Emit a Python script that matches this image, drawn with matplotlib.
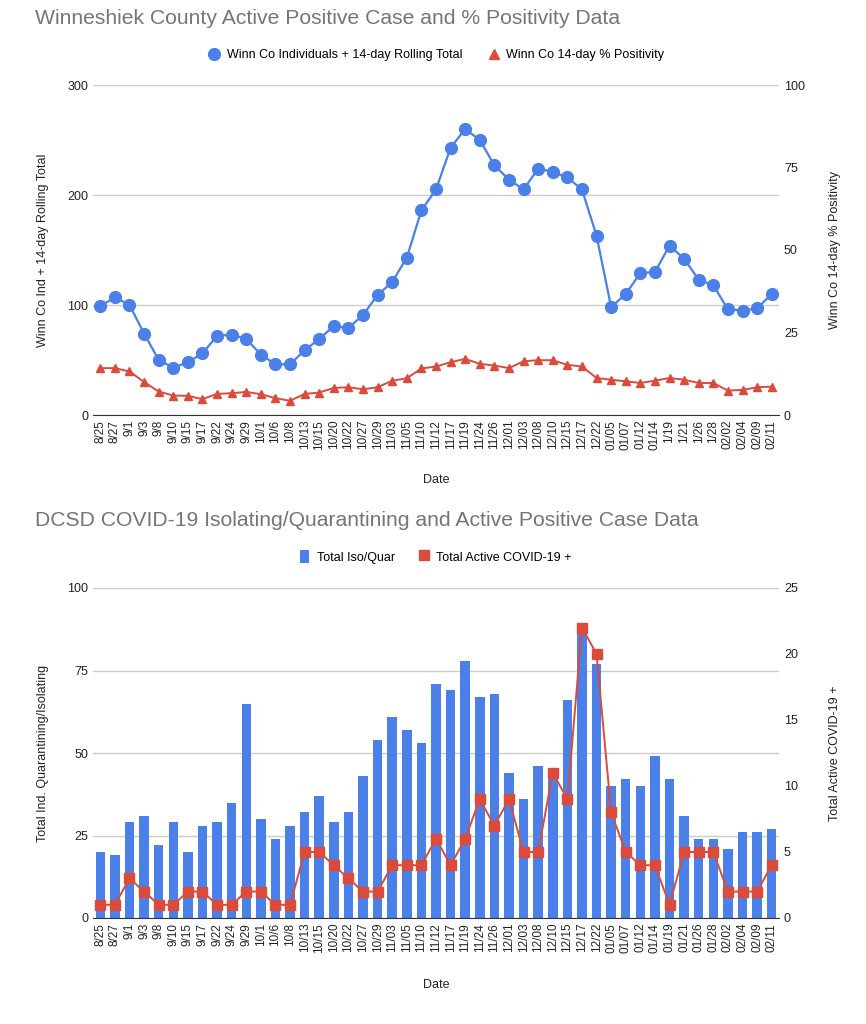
import numpy as np
import matplotlib
matplotlib.use('Agg')
import matplotlib.pyplot as plt
from matplotlib.lines import Line2D
from matplotlib.patches import Patch

plt.rcParams['font.family'] = ['Liberation Sans', 'DejaVu Sans']

# top chart data
dates_top = ['8/25', '8/27', '9/1', '9/3', '9/8', '9/10', '9/15', '9/17', '9/22', '9/24',
             '9/29', '10/1', '10/6', '10/8', '10/13', '10/15', '10/20', '10/22', '10/27', '10/29',
             '11/03', '11/05', '11/10', '11/12', '11/17', '11/19', '11/24', '11/26', '12/01', '12/03',
             '12/08', '12/10', '12/15', '12/17', '12/22', '01/05', '01/07', '01/12', '01/14', '1/19',
             '1/21', '1/26', '1/28', '02/02', '02/04', '02/09', '02/11']
rolling_total = [99, 107, 100, 74, 50, 43, 48, 56, 72, 73,
                 69, 55, 46, 46, 59, 69, 81, 79, 91, 109,
                 121, 143, 186, 205, 243, 260, 250, 227, 214, 205,
                 224, 221, 216, 205, 163, 98, 110, 129, 130, 154,
                 142, 123, 118, 96, 95, 97, 110]
positivity = [14.2, 14.2, 13.2, 10.0, 7.1, 5.9, 5.8, 4.8, 6.4, 6.6,
              7.0, 6.3, 5.1, 4.3, 6.4, 6.8, 8.2, 8.4, 7.8, 8.4,
              10.4, 11.1, 14.1, 14.7, 16.0, 17.0, 15.5, 15.0, 14.2, 16.3,
              16.6, 16.6, 15.2, 14.7, 11.2, 10.7, 10.2, 9.7, 10.4, 11.2,
              10.7, 9.7, 9.7, 7.4, 7.6, 8.4, 8.6]

# bottom chart data
dates_bottom = ['8/25', '8/27', '9/1', '9/3', '9/8', '9/10', '9/15', '9/17', '9/22', '9/24',
                '9/29', '10/1', '10/6', '10/8', '10/13', '10/15', '10/20', '10/22', '10/27', '10/29',
                '11/03', '11/05', '11/10', '11/12', '11/17', '11/19', '11/24', '11/26', '12/01', '12/03',
                '12/08', '12/10', '12/15', '12/17', '12/22', '01/05', '01/07', '01/12', '01/14', '01/19',
                '01/21', '01/26', '01/28', '02/02', '02/04', '02/09', '02/11']
iso_quar = [20, 19, 29, 31, 22, 29, 20, 28, 29, 35,
            65, 30, 24, 28, 32, 37, 29, 32, 43, 54,
            61, 57, 53, 71, 69, 78, 67, 68, 44, 36,
            46, 43, 66, 88, 77, 40, 42, 40, 49, 42,
            31, 24, 24, 21, 26, 26, 27]
active_pos = [1, 1, 3, 2, 1, 1, 2, 2, 1, 1,
              2, 2, 1, 1, 5, 5, 4, 3, 2, 2,
              4, 4, 4, 6, 4, 6, 9, 7, 9, 5,
              5, 11, 9, 22, 20, 8, 5, 4, 4, 1,
              5, 5, 5, 2, 2, 2, 4]

BLUE = '#4a80e8'
RED = '#db4b3c'
TITLE_GRAY = '#757575'
TEXT = '#222222'
GRID = '#cccccc'

fig = plt.figure(figsize=(8.66, 10.24), dpi=100)


def style_axes(ax, labels):
    for s in ['top', 'left', 'right']:
        ax.spines[s].set_visible(False)
    ax.spines['bottom'].set_color('#333333')
    ax.tick_params(length=0, labelsize=9, colors=TEXT)
    ax.set_xticks(np.arange(len(labels)))
    ax.set_xticklabels(labels, rotation=90, fontsize=8.5)
    ax.set_xlim(-0.5, len(labels) - 0.5)


# ---- top chart ----
ax1 = fig.add_axes([93 / 866, 1 - 415 / 1024, 686 / 866, 330 / 1024])
ax2 = ax1.twinx()
x = np.arange(len(dates_top))

style_axes(ax1, dates_top)
for s in ['top', 'left', 'right', 'bottom']:
    ax2.spines[s].set_visible(False)
ax2.tick_params(length=0, labelsize=9, colors=TEXT)

ax1.set_ylim(0, 300)
ax1.set_yticks([0, 100, 200, 300])
ax1.grid(axis='y', color=GRID, linewidth=1)
ax1.set_axisbelow(True)
ax2.set_ylim(0, 100)
ax2.set_yticks([0, 25, 50, 75, 100])

ax1.plot(x, rolling_total, color=BLUE, marker='o', markersize=8.5, linewidth=1.6, zorder=3)
ax2.plot(x, positivity, color=RED, marker='^', markersize=6, linewidth=1.4, zorder=3)

ax1.set_ylabel('Winn Co Ind + 14-day Rolling Total', fontsize=9, color=TEXT)
ax1.yaxis.set_label_coords(-0.064, 0.5)
ax2.set_ylabel('Winn Co 14-day % Positivity', fontsize=9, color=TEXT, rotation=90)
ax2.yaxis.set_label_coords(1.073, 0.5)
ax1.set_xlabel('Date', fontsize=9, color=TEXT)
ax1.xaxis.set_label_coords(0.5, -0.178)

handles_top = [
    Line2D([], [], color=BLUE, marker='o', linestyle='none', markersize=8.5),
    Line2D([], [], color=RED, marker='^', linestyle='none', markersize=7),
]
ax1.legend(handles_top, ['Winn Co Individuals + 14-day Rolling Total', 'Winn Co 14-day % Positivity'],
           loc='center', bbox_to_anchor=(0.5, 1.091), ncol=2, frameon=False, fontsize=9,
           handletextpad=0.5, columnspacing=2.0, handlelength=1.0)

fig.text(35 / 866, 1 - 18 / 1024, 'Winneshiek County Active Positive Case and % Positivity Data',
         fontsize=15.2, color=TITLE_GRAY, va='center', ha='left')

# ---- bottom chart ----
ax3 = fig.add_axes([93 / 866, 1 - 918 / 1024, 686 / 866, 330 / 1024])
ax4 = ax3.twinx()
x = np.arange(len(dates_bottom))

style_axes(ax3, dates_bottom)
for s in ['top', 'left', 'right', 'bottom']:
    ax4.spines[s].set_visible(False)
ax4.tick_params(length=0, labelsize=9, colors=TEXT)

ax3.set_ylim(0, 100)
ax3.set_yticks([0, 25, 50, 75, 100])
ax3.grid(axis='y', color=GRID, linewidth=1)
ax3.set_axisbelow(True)
ax4.set_ylim(0, 25)
ax4.set_yticks([0, 5, 10, 15, 20, 25])

ax3.bar(x, iso_quar, width=0.65, color=BLUE, zorder=2)
ax4.plot(x, active_pos, color=RED, marker='s', markersize=6.5, linewidth=1.4, zorder=3)

ax3.set_ylabel('Total Ind. Quarantining/Isolating', fontsize=9, color=TEXT)
ax3.yaxis.set_label_coords(-0.064, 0.5)
ax4.set_ylabel('Total Active COVID-19 +', fontsize=9, color=TEXT, rotation=90)
ax4.yaxis.set_label_coords(1.073, 0.5)
ax3.set_xlabel('Date', fontsize=9, color=TEXT)
ax3.xaxis.set_label_coords(0.5, -0.185)

handles_bottom = [
    Patch(facecolor=BLUE),
    Line2D([], [], color=RED, marker='s', linestyle='none', markersize=7),
]
ax3.legend(handles_bottom, ['Total Iso/Quar', 'Total Active COVID-19 +'],
           loc='center', bbox_to_anchor=(0.5, 1.094), ncol=2, frameon=False, fontsize=9,
           handletextpad=0.6, columnspacing=2.0, handlelength=0.7, handleheight=1.2)

fig.text(35 / 866, 1 - 521 / 1024, 'DCSD COVID-19 Isolating/Quarantining and Active Positive Case Data',
         fontsize=15.2, color=TITLE_GRAY, va='center', ha='left')

fig.savefig('out.png', dpi=100, facecolor='white')
